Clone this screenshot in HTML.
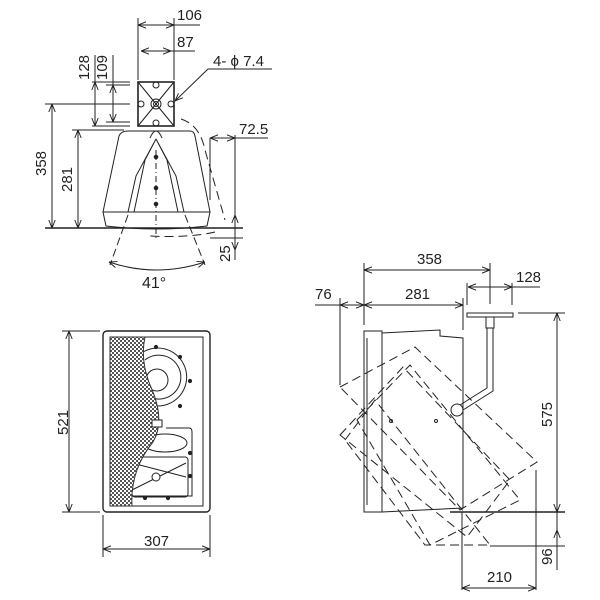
<!DOCTYPE html>
<html><head><meta charset="utf-8"><style>
html,body{margin:0;padding:0;background:#fff}
svg{display:block}
text{font-family:"Liberation Sans",sans-serif;font-size:15px;fill:#222}
</style></head><body>
<svg width="600" height="600" viewBox="0 0 600 600" xmlns="http://www.w3.org/2000/svg">
<defs>
<marker id="a" viewBox="0 0 10 10" refX="10" refY="5" markerWidth="8" markerHeight="8" orient="auto-start-reverse"><path d="M0,1 L10,5 L0,9" fill="none" stroke="#222" stroke-width="1.2"/></marker>
<pattern id="h" width="4" height="4" patternUnits="userSpaceOnUse"><rect width="4" height="4" fill="#fff"/><rect width="2" height="2" fill="#555"/><rect x="2" y="2" width="2" height="2" fill="#555"/></pattern>
</defs>
<g stroke="#222" stroke-width="1" fill="none">
<!-- TOP VIEW -->
<line x1="138" y1="18" x2="138" y2="80"/><line x1="174" y1="18" x2="174" y2="80"/>
<line x1="138" y1="25" x2="174" y2="25" marker-start="url(#a)" marker-end="url(#a)"/><line x1="174" y1="25" x2="200" y2="25"/>
<line x1="141" y1="51" x2="171" y2="51" marker-start="url(#a)" marker-end="url(#a)"/><line x1="171" y1="51" x2="195" y2="51"/>
<rect x="138" y="82" width="36" height="44" stroke-width="1.6"/>
<line x1="138" y1="82" x2="174" y2="126"/><line x1="174" y1="82" x2="138" y2="126"/>
<circle cx="156" cy="104" r="5"/><circle cx="156" cy="104" r="2.5"/>
<circle cx="156" cy="85" r="3"/><circle cx="156" cy="123" r="3"/><circle cx="141" cy="104" r="3"/><circle cx="171" cy="104" r="3"/>
<polyline points="272,69 208,69 175,101" marker-end="url(#a)"/>
<line x1="92" y1="82" x2="130" y2="82"/><line x1="92" y1="126" x2="130" y2="126"/>
<line x1="95" y1="82" x2="95" y2="126" marker-start="url(#a)" marker-end="url(#a)"/><line x1="95" y1="82" x2="95" y2="55"/>
<line x1="106" y1="85" x2="130" y2="85"/><line x1="106" y1="122" x2="130" y2="122"/>
<line x1="113" y1="85" x2="113" y2="122" marker-start="url(#a)" marker-end="url(#a)"/><line x1="113" y1="85" x2="113" y2="55"/>
<line x1="45" y1="104" x2="130" y2="104"/>
<line x1="52" y1="104" x2="52" y2="228" marker-start="url(#a)" marker-end="url(#a)"/>
<line x1="72" y1="130" x2="124" y2="130"/>
<line x1="78" y1="130" x2="78" y2="228" marker-start="url(#a)" marker-end="url(#a)"/>
<path d="M128,131 L190,131 Q194,131 195,136 L210,212 L103,212 L119,136 Q121,131 128,131 Z"/>
<path d="M103,212 L106,226 Q156,232 207,226 L210,212"/>
<line x1="45" y1="228" x2="243" y2="228" stroke-width="1.5"/>
<path d="M156,139 L136,176 L128,212 M156,139 L176,176 L184,212 M156,139 L145,160 L134,212 M156,139 L167,160 L178,212"/>
<path d="M150,138 Q156,124 162,138" />
<line x1="156" y1="150" x2="156" y2="240" stroke-dasharray="6,3,1,3"/>
<circle cx="156" cy="157" r="1.8" fill="#222"/><circle cx="156" cy="188" r="1.8" fill="#222"/><circle cx="156" cy="204" r="1.8" fill="#222"/>
<path d="M181,119 Q200,125 205,150 L225,220 M215,232 Q190,238 150,236" stroke-dasharray="9,5"/>
<line x1="210" y1="138" x2="210" y2="200"/><line x1="235" y1="135" x2="235" y2="260"/>
<line x1="210" y1="138" x2="235" y2="138" marker-start="url(#a)" marker-end="url(#a)"/><line x1="235" y1="138" x2="268" y2="138"/>
<line x1="210" y1="238" x2="243" y2="238"/>
<line x1="235" y1="228" x2="235" y2="215" marker-end="url(#a)"/><line x1="235" y1="238" x2="235" y2="250" marker-end="url(#a)"/>
<line x1="128" y1="215" x2="110" y2="265" stroke-dasharray="8,4"/><line x1="185" y1="215" x2="205" y2="265" stroke-dasharray="8,4"/>
<path d="M109,262 Q156,278 205,262" marker-start="url(#a)" marker-end="url(#a)"/>
<!-- FRONT VIEW -->
<rect x="103" y="331" width="107" height="181" rx="4" stroke-width="1.4"/>
<rect x="110" y="337" width="93" height="169"/>
<line x1="62" y1="331" x2="100" y2="331"/><line x1="62" y1="512" x2="100" y2="512"/>
<line x1="69" y1="331" x2="69" y2="512" marker-start="url(#a)" marker-end="url(#a)"/>
<line x1="103" y1="515" x2="103" y2="557"/><line x1="210" y1="515" x2="210" y2="557"/>
<line x1="103" y1="549" x2="210" y2="549" marker-start="url(#a)" marker-end="url(#a)"/>
<path d="M143,352 A29,29 0 1 1 150,405"/><path d="M145,360 A22,22 0 1 1 152,398"/>
<circle cx="157" cy="380" r="11"/>
<circle cx="156" cy="347" r="1.6" fill="#222"/><circle cx="180" cy="357" r="1.6" fill="#222"/><circle cx="190" cy="381" r="1.6" fill="#222"/><circle cx="180" cy="406" r="1.6" fill="#222"/>
<path d="M166,428 L189,428 Q192,428 192,432 L192,496 L132,496"/>
<ellipse cx="165" cy="443" rx="22" ry="9"/>
<rect x="132" y="457" width="56" height="40" rx="3"/>
<line x1="132" y1="463" x2="186" y2="477" /><line x1="132" y1="490" x2="186" y2="463"/><circle cx="156" cy="477" r="4" fill="#fff"/>
<circle cx="190" cy="453" r="1.6" fill="#222"/><circle cx="190" cy="476" r="1.6" fill="#222"/><circle cx="145" cy="498" r="1.6" fill="#222"/><circle cx="168" cy="498" r="1.6" fill="#222"/>
<path d="M110,337 L145,337 Q140,360 150,385 Q166,420 153,442 Q130,470 132,506 L110,506 Z" fill="url(#h)" stroke="#333"/>
<rect x="152" y="420" width="10" height="7" fill="#fff"/>
<!-- SIDE VIEW -->
<line x1="364" y1="263" x2="364" y2="325"/><line x1="490" y1="263" x2="490" y2="304"/>
<line x1="364" y1="270" x2="490" y2="270" marker-start="url(#a)" marker-end="url(#a)"/>
<line x1="364" y1="305" x2="463" y2="305" marker-start="url(#a)" marker-end="url(#a)"/><line x1="463" y1="298" x2="463" y2="330"/>
<line x1="315" y1="305" x2="340" y2="305"/><line x1="340" y1="298" x2="340" y2="385"/>
<line x1="340" y1="305" x2="364" y2="305" marker-start="url(#a)" marker-end="url(#a)"/>
<line x1="467" y1="283" x2="467" y2="305"/><line x1="512" y1="283" x2="512" y2="305"/>
<line x1="468" y1="287" x2="512" y2="287" marker-start="url(#a)" marker-end="url(#a)"/><line x1="512" y1="287" x2="540" y2="287"/>
<rect x="467" y="313" width="46" height="4"/>
<path d="M486,317 L494,317 L494,328 L486,328 Z"/>
<path d="M487,328 L487,388 L460,405 M493,328 L493,391 L463,410"/>
<circle cx="457" cy="410" r="6" fill="#fff"/>
<path d="M364,331 L382,331 L382,512 L364,512 Z"/>
<line x1="367" y1="338" x2="367" y2="505"/>
<path d="M382,333 L440,330 L440,336 L463,338 L463,508 L382,512"/>
<circle cx="391" cy="421" r="1.5"/><circle cx="436" cy="421" r="1.5"/>
<line x1="518" y1="313" x2="565" y2="313"/>
<line x1="557" y1="313" x2="557" y2="512" marker-start="url(#a)" marker-end="url(#a)"/>
<line x1="450" y1="512" x2="565" y2="512" stroke-width="1.5"/>
<line x1="490" y1="546" x2="565" y2="546"/>
<line x1="557" y1="512" x2="557" y2="570" /><line x1="557" y1="546" x2="557" y2="530" marker-end="url(#a)"/>
<line x1="462" y1="512" x2="462" y2="590"/><line x1="536" y1="470" x2="536" y2="590"/>
<line x1="462" y1="588" x2="536" y2="588" marker-start="url(#a)" marker-end="url(#a)"/>
<g stroke-dasharray="9,5">
<polygon points="340,387 415,347 537,462 460,510"/>
<polygon points="340,435 403,367 510,480 467,537"/>
<polygon points="357,420 410,365 520,500 430,545"/>
<polygon points="345,440 375,400 490,545 425,545"/>
</g>
</g>
<g>
<text x="177" y="20">106</text>
<text x="177" y="47">87</text>
<text x="213" y="66">4- ϕ 7.4</text>
<text transform="translate(89,80) rotate(-90)">128</text>
<text transform="translate(107,80) rotate(-90)">109</text>
<text transform="translate(46,176) rotate(-90)">358</text>
<text transform="translate(72,192) rotate(-90)">281</text>
<text x="239" y="134">72.5</text>
<text transform="translate(230,262) rotate(-90)">25</text>
<text x="142" y="288" style="font-size:16px">41°</text>
<text transform="translate(68,435) rotate(-90)">521</text>
<text x="144" y="546">307</text>
<text x="417" y="264">358</text>
<text x="405" y="299">281</text>
<text x="315" y="299">76</text>
<text x="516" y="282">128</text>
<text transform="translate(552,427) rotate(-90)">575</text>
<text transform="translate(552,565) rotate(-90)">96</text>
<text x="487" y="582">210</text>
</g>
</svg>
</body></html>
